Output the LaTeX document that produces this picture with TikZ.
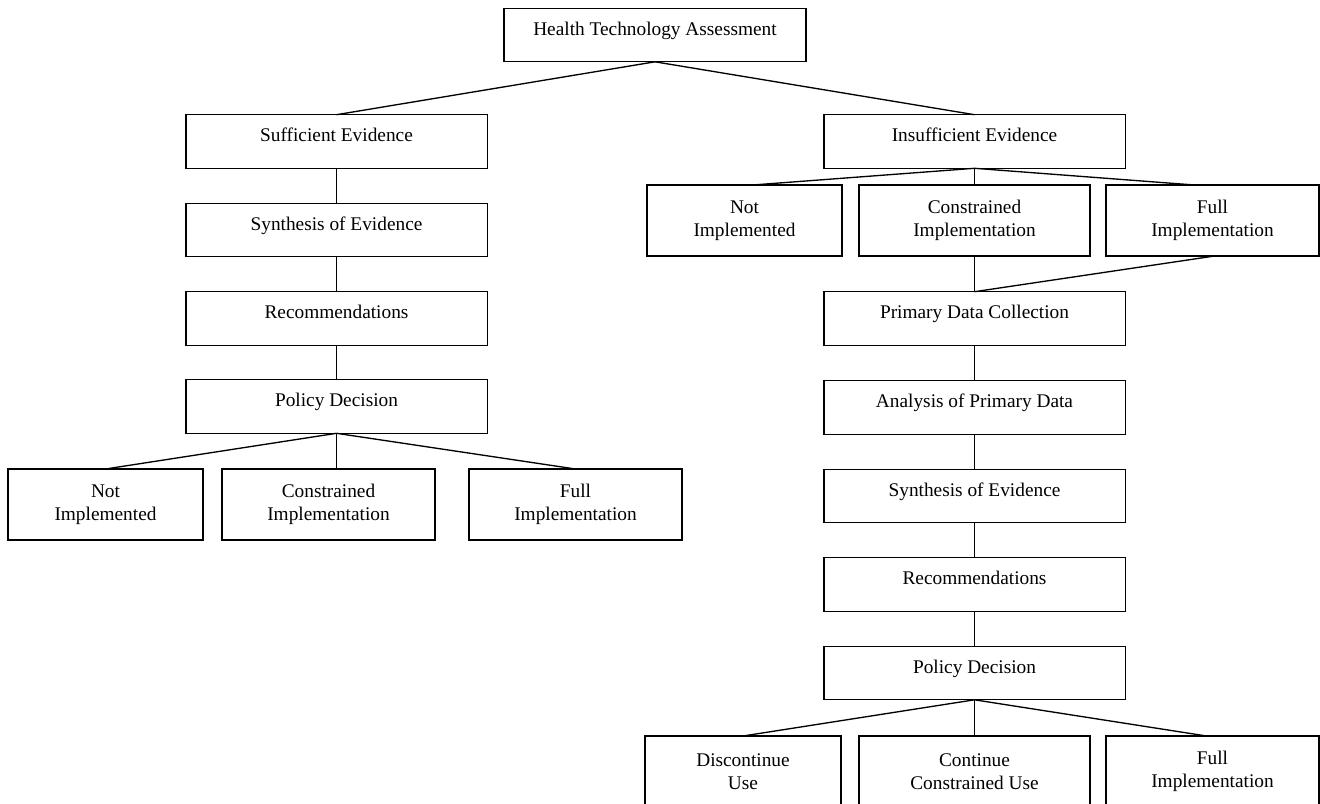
\documentclass[tikz,border=0pt]{standalone}
\usepackage{fontspec}
\setmainfont{Liberation Serif}
\usetikzlibrary{calc}
\begin{document}
\begin{tikzpicture}[x=0.75pt,y=-0.75pt,
  box/.style={draw, line width=1pt, inner sep=0pt, outer sep=0pt,
    font=\fontsize{14.5}{17.3}\selectfont, align=center},
  one/.style={box, minimum width=226pt, minimum height=40.2pt, text height=9pt, text depth=9pt},
  two/.style={box, minimum height=53.25pt},
  conn/.style={line width=1pt}]
\useasboundingbox (0,0) rectangle (1320,803);
\clip (0,0) rectangle (1320,803);

% top
\node[one, minimum width=226.5pt] (hta) at (655,35) {Health Technology Assessment};

% left column
\node[one] (se)   at (336.5,141.5) {Sufficient Evidence};
\node[one] (syn1) at (336.5,230)   {Synthesis of Evidence};
\node[one] (rec1) at (336.5,318.5) {Recommendations};
\node[one] (pd1)  at (336.5,406.5) {Policy Decision};
\node[two, minimum width=146.25pt] (ni1) at (105.5,504.5) {Not\\Implemented};
\node[two, minimum width=159.75pt] (ci1) at (328.5,504.5) {Constrained\\Implementation};
\node[two, minimum width=159.75pt] (fi1) at (575.5,504.5) {Full\\Implementation};

% right column
\node[one] (ie)   at (974.5,141.5) {Insufficient Evidence};
\node[two, minimum width=146.25pt] (ni2) at (744.5,220.5) {Not\\Implemented};
\node[two, minimum width=173.25pt] (ci2) at (974.5,220.5) {Constrained\\Implementation};
\node[two, minimum width=159.75pt] (fi2) at (1212.5,220.5) {Full\\Implementation};
\node[one] (pdc)  at (974.5,318.5) {Primary Data Collection};
\node[one] (apd)  at (974.5,407.5) {Analysis of Primary Data};
\node[one] (syn2) at (974.5,496)   {Synthesis of Evidence};
\node[one] (rec2) at (974.5,584.5) {Recommendations};
\node[one] (pd2)  at (974.5,673)   {Policy Decision};
\node[two, minimum width=147pt]    (dc)  at (743,771.5)    {Discontinue\\Use};
\node[two, minimum width=173.25pt] (cc)  at (974.5,771.5)  {Continue\\Constrained Use};
\node[two, minimum width=159.75pt] (fi3) at (1212.5,771.5) {Full\\Implementation};

% connectors
\draw[conn] (hta.south) -- (se.north);
\draw[conn] (hta.south) -- (ie.north);
\draw[conn] (se.south) -- (syn1.north);
\draw[conn] (syn1.south) -- (rec1.north);
\draw[conn] (rec1.south) -- (pd1.north);
\draw[conn] (pd1.south) -- (ni1.north);
\draw[conn] (pd1.south) -- (pd1.south |- ci1.north);
\draw[conn] (pd1.south) -- (fi1.north);

\draw[conn] (ie.south) -- ($(ni2.north)+(8,0)$);
\draw[conn] (ie.south) -- (ci2.north);
\draw[conn] (ie.south) -- ($(fi2.north)+(-18,0)$);
\draw[conn] (ci2.south) -- (pdc.north);
\draw[conn] ($(fi2.south)+(2,0)$) -- (pdc.north);
\draw[conn] (pdc.south) -- (apd.north);
\draw[conn] (apd.south) -- (syn2.north);
\draw[conn] (syn2.south) -- (rec2.north);
\draw[conn] (rec2.south) -- (pd2.north);
\draw[conn] (pd2.south) -- (dc.north);
\draw[conn] (pd2.south) -- (cc.north);
\draw[conn] (pd2.south) -- ($(fi3.north)+(-6,0)$);
\end{tikzpicture}
\end{document}
